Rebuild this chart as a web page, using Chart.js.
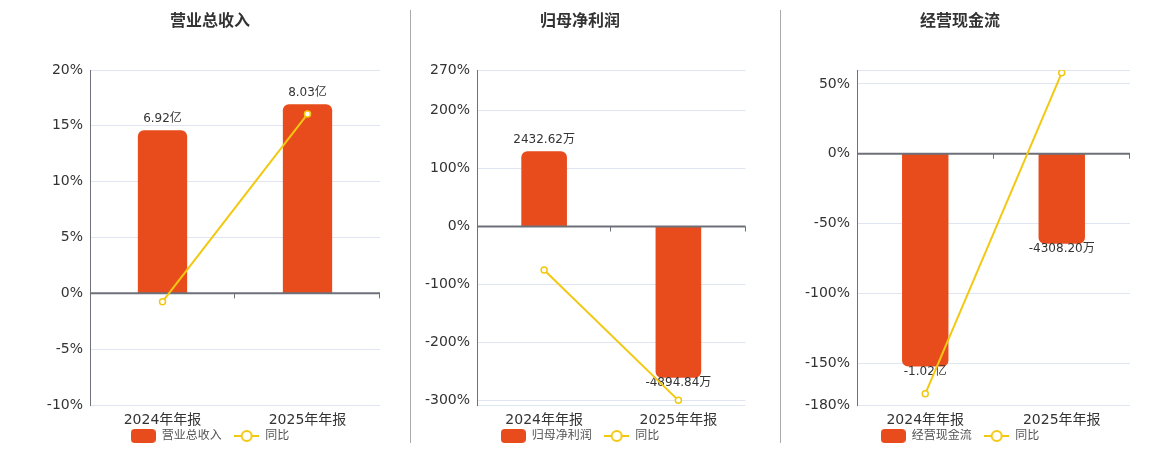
<!DOCTYPE html>
<html>
<head>
<meta charset="utf-8">
<script src="https://cdn.jsdelivr.net/npm/chart.js@4.4.1/dist/chart.umd.min.js"></script>
<style>
    html, body { margin: 0; padding: 0; background: #fff; }
    #wrap { position: relative; width: 1160px; height: 450px; overflow: hidden; }
    .panel { position: absolute; top: 0; height: 452px; }
    .sep { position: absolute; top: 10px; height: 433px; width: 1px; background: #aaaaaa; }
</style>
</head>
<body>
<div id="wrap">
    <div class="panel" style="left:0;width:420px"><canvas id="c1"></canvas></div>
    <div class="panel" style="left:409px;width:342px"><canvas id="c2"></canvas></div>
    <div class="panel" style="left:780px;width:360px"><canvas id="c3"></canvas></div>
    <div class="sep" style="left:410px"></div>
    <div class="sep" style="left:780px"></div>
</div>
<script>
// categories
const categories = ["2024年年报", "2025年年报"];

// bar values, in 万元
const revenueValues = [69200, 80300];
const profitValues = [2432.62, -4894.84];
const cashValues = [-10200, -4308.20];

// 同比, in %
const revenueYoy = [-0.75, 16.05];
const profitYoy = [-75, -300];
const cashYoy = [-172, 58];

// y axis tick labels (%) and axis range
const revenueTicks = [-10, -5, 0, 5, 10, 15, 20];
const profitTicks = [-300, -200, -100, 0, 100, 200, 270];
const cashTicks = [-180, -150, -100, -50, 0, 50];
const revenueRange = [-10, 20];
const profitRange = [-308, 270];
const cashRange = [-180, 60];

const BAR_COLOR = "#e84c1d";
const LINE_COLOR = "#f2c811";
const FONT = '"DejaVu Sans", "Noto Sans CJK SC", sans-serif';

// format 万 value as 亿 / 万 label
function fmt(v) {
    if (Math.abs(v) >= 10000) return (v / 10000).toFixed(2) + "亿";
    return v.toFixed(2) + "万";
}

// legend icons
function barIcon() {
    const c = document.createElement("canvas");
    c.width = 25; c.height = 14;
    const g = c.getContext("2d");
    g.fillStyle = BAR_COLOR;
    g.beginPath();
    g.roundRect(0, 0, 25, 14, 4);
    g.fill();
    return c;
}
function lineIcon() {
    const c = document.createElement("canvas");
    c.width = 25; c.height = 14;
    const g = c.getContext("2d");
    g.strokeStyle = LINE_COLOR;
    g.lineWidth = 2;
    g.beginPath();
    g.moveTo(0, 7); g.lineTo(25, 7);
    g.stroke();
    g.fillStyle = "#fff";
    g.beginPath();
    g.arc(12.5, 7, 5, 0, Math.PI * 2);
    g.fill();
    g.stroke();
    return c;
}

// zero line, boundary ticks and bar value labels
const overlay = {
    id: "overlay",
    afterDatasetDraw(chart, args) {
        if (args.meta.type !== "bar") return;
        const ctx = chart.ctx;
        const area = chart.chartArea;
        const y0 = chart.scales.y.getPixelForValue(0);
        ctx.save();
        ctx.strokeStyle = "#6e7079";
        ctx.lineWidth = 2;
        ctx.beginPath();
        ctx.moveTo(area.left, y0);
        ctx.lineTo(area.right, y0);
        ctx.stroke();
        ctx.lineWidth = 1;
        const n = chart.data.labels.length;
        for (let i = 1; i <= n; i++) {
            const x = Math.round(area.left + (area.right - area.left) * i / n) - 0.5;
            ctx.beginPath();
            ctx.moveTo(x, y0);
            ctx.lineTo(x, y0 + 5);
            ctx.stroke();
        }
        ctx.font = "12px " + FONT;
        ctx.fillStyle = "#333";
        ctx.textAlign = "center";
        ctx.textBaseline = "middle";
        const vals = chart.data.datasets[args.index].data;
        args.meta.data.forEach((el, i) => {
            const v = vals[i];
            const ty = v >= 0 ? el.y - 11 : el.y + 5;
            ctx.fillText(fmt(v), el.x, ty);
        });
        ctx.restore();
    }
};

function makeChart(id, title, values, yoy, ticks, range, axisWidth, padRight) {
    const maxAbs = Math.max(...values.map(Math.abs));
    const big = values.find(v => Math.abs(v) === maxAbs);
    const side = big >= 0 ? range[1] : -range[0];
    const k = maxAbs / (0.847 * side);
    const gridVals = Array.from(new Set(ticks.concat(range))).sort((a, b) => a - b);

    new Chart(document.getElementById(id), {
        type: "bar",
        data: {
            labels: categories,
            datasets: [
                {
                    type: "bar",
                    label: title,
                    data: values,
                    yAxisID: "yBar",
                    backgroundColor: BAR_COLOR,
                    borderRadius: 6,
                    borderSkipped: "start",
                    barPercentage: 0.34,
                    categoryPercentage: 1,
                    order: 1,
                },
                {
                    type: "line",
                    label: "同比",
                    data: yoy,
                    yAxisID: "y",
                    borderColor: LINE_COLOR,
                    borderWidth: 2,
                    backgroundColor: "#fff",
                    pointBackgroundColor: "#fff",
                    pointBorderColor: LINE_COLOR,
                    pointBorderWidth: 1.5,
                    pointRadius: 3,
                    tension: 0,
                    order: 0,
                },
            ],
        },
        options: {
            responsive: true,
            maintainAspectRatio: false,
            animation: false,
            plugins: {
                title: {
                    display: true,
                    text: title,
                    color: "#333",
                    font: { family: FONT, size: 16, weight: "bold" },
                    padding: { top: 12, bottom: 38.8 },
                },
                legend: {
                    position: "bottom",
                    labels: {
                        usePointStyle: true,
                        pointStyleWidth: 25,
                        padding: 1,
                        color: "#555",
                        font: { family: FONT, size: 12 },
                        generateLabels: () => [
                            { text: title + "   ", pointStyle: barIcon(), datasetIndex: 0, fontColor: "#555" },
                            { text: "同比", pointStyle: lineIcon(), datasetIndex: 1, fontColor: "#555" },
                        ],
                    },
                },
                tooltip: { enabled: false },
            },
            scales: {
                x: {
                    grid: { display: false, drawTicks: false },
                    border: { display: false },
                    ticks: { color: "#333", padding: 7, font: { family: FONT, size: 14 } },
                    afterFit: (s) => { s.height = 24; },
                },
                y: {
                    min: range[0],
                    max: range[1],
                    afterBuildTicks: (s) => { s.ticks = gridVals.map(v => ({ value: v })); },
                    afterFit: (s) => { s.width = axisWidth; },
                    grid: {
                        color: (c) => (c.tick && c.tick.value === 0 ? "rgba(0,0,0,0)" : "#e0e6f1"),
                        drawTicks: false,
                    },
                    border: { display: true, color: "#6e7079", width: 1 },
                    ticks: {
                        color: "#333",
                        padding: 7,
                        font: { family: FONT, size: 14 },
                        callback: (v) => (ticks.includes(v) ? v + "%" : ""),
                    },
                },
                yBar: {
                    position: "right",
                    min: range[0] * k,
                    max: range[1] * k,
                    grid: { display: false, drawTicks: false },
                    border: { display: false },
                    ticks: { display: false },
                    afterFit: (s) => { s.width = padRight; },
                },
            },
        },
        plugins: [overlay],
    });
}

makeChart("c1", "营业总收入", revenueValues, revenueYoy, revenueTicks, revenueRange, 90, 40);
makeChart("c2", "归母净利润", profitValues, profitYoy, profitTicks, profitRange, 68, 2);
makeChart("c3", "经营现金流", cashValues, cashYoy, cashTicks, cashRange, 77, 10);
</script>
</body>
</html>
